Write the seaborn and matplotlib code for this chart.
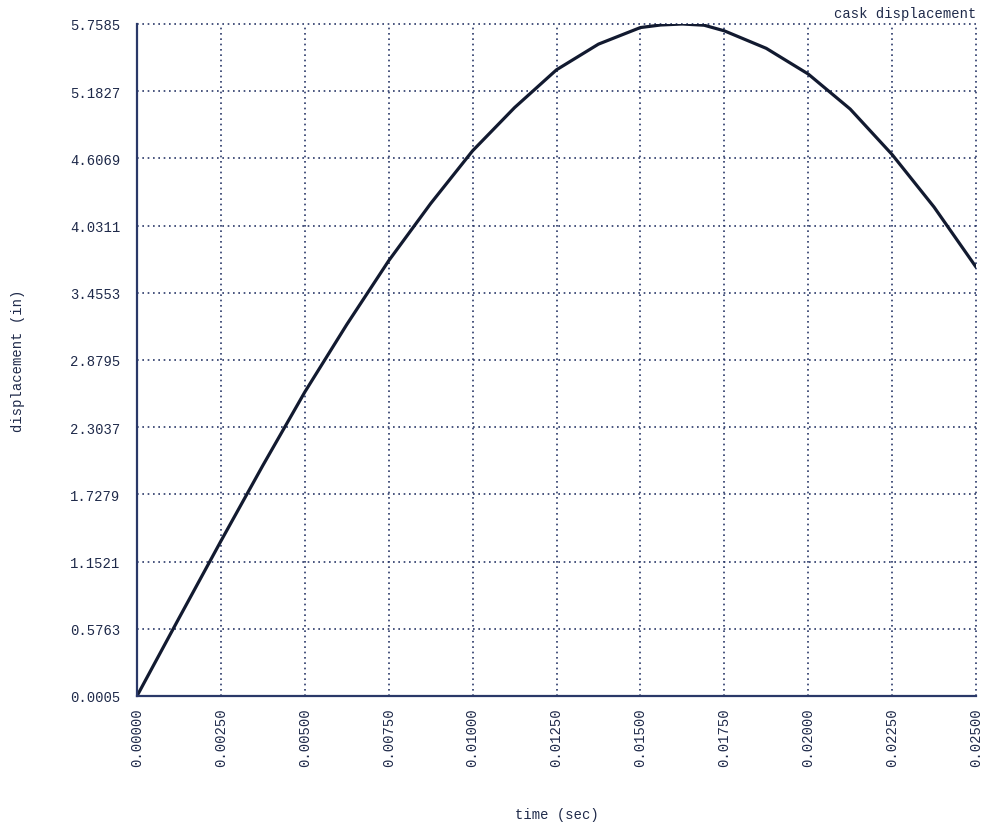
import matplotlib
matplotlib.use("Agg")
import matplotlib.pyplot as plt
import seaborn as sns
import pandas as pd

# cask displacement history
time_sec = [0.0, 0.00125, 0.0025, 0.00375, 0.005, 0.00625, 0.0075, 0.00875,
            0.01, 0.01125, 0.0125, 0.01375, 0.015, 0.0156, 0.01625, 0.0169,
            0.0175, 0.01875, 0.02, 0.02125, 0.0225, 0.02375, 0.025]
displacement_in = [0.0005, 0.667, 1.328, 1.976, 2.605, 3.183, 3.730, 4.220,
                   4.672, 5.042, 5.366, 5.586, 5.728, 5.750, 5.7585, 5.748,
                   5.700, 5.550, 5.330, 5.030, 4.640, 4.190, 3.676]

x_ticks = [0.0, 0.0025, 0.005, 0.0075, 0.01, 0.0125, 0.015, 0.0175, 0.02, 0.0225, 0.025]
x_tick_labels = ["0.00000", "0.00250", "0.00500", "0.00750", "0.01000", "0.01250",
                 "0.01500", "0.01750", "0.02000", "0.02250", "0.02500"]
y_ticks = [0.0005, 0.5763, 1.1521, 1.7279, 2.3037, 2.8795, 3.4553, 4.0311,
           4.6069, 5.1827, 5.7585]
y_tick_labels = ["0.0005", "0.5763", "1.1521", "1.7279", "2.3037", "2.8795",
                 "3.4553", "4.0311", "4.6069", "5.1827", "5.7585"]

df = pd.DataFrame({"time": time_sec, "disp": displacement_in})

sns.set_theme(style="white")
plt.rcParams["font.family"] = ["Liberation Mono", "DejaVu Sans Mono"]

text_c = "#1f2a4a"
grid_c = "#2a3868"
line_c = "#121a30"

fig = plt.figure(figsize=(9.95, 8.29), dpi=100)
ax = fig.add_axes([137 / 995, 1 - 697 / 829, (976 - 137) / 995, (697 - 25) / 829])

sns.lineplot(data=df, x="time", y="disp", ax=ax, color=line_c, linewidth=2.3,
             zorder=5)
ax.get_lines()[0].set_solid_joinstyle("round")

ax.set_xlim(0.0, 0.025)
ax.set_ylim(0.0005, 5.7585)
ax.set_xticks(x_ticks)
ax.set_xticklabels(x_tick_labels, rotation=90)
ax.set_yticks(y_ticks)
ax.set_yticklabels(y_tick_labels)

ax.grid(True, color=grid_c, linestyle=(0, (1, 2.2)), linewidth=1.2)
for gl in ax.get_xgridlines() + ax.get_ygridlines():
    gl.set_clip_on(False)

for side in ("top", "right"):
    ax.spines[side].set_visible(False)
for side in ("left", "bottom"):
    ax.spines[side].set_color(grid_c)
    ax.spines[side].set_linewidth(1.6)
    ax.spines[side].set_zorder(6)

ax.tick_params(axis="both", length=0, labelsize=10, labelcolor=text_c)
ax.tick_params(axis="y", pad=12)
ax.tick_params(axis="x", pad=8)

ax.set_xlabel("time (sec)", fontsize=10, color=text_c)
ax.set_ylabel("displacement (in)", fontsize=10, color=text_c)
ax.xaxis.set_label_coords(0.5, -0.165)
ax.yaxis.set_label_coords(-0.1335, 0.5)

ax.text(1.0, 1.006, "cask displacement", transform=ax.transAxes, ha="right",
        va="bottom", fontsize=10, color=text_c)

fig.savefig("out.png", dpi=100, facecolor="white")
